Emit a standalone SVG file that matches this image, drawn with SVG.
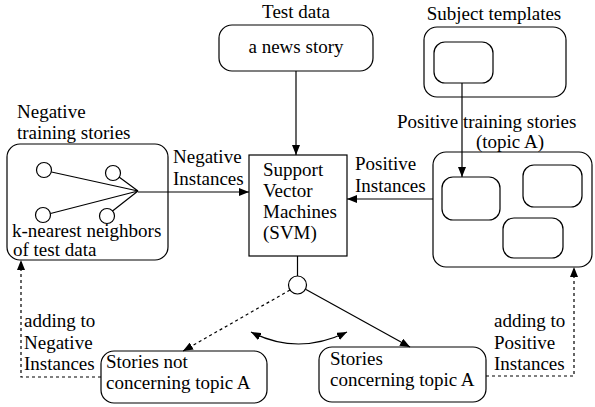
<svg xmlns="http://www.w3.org/2000/svg" width="595" height="407" viewBox="0 0 595 407" font-family="'Liberation Serif', 'Times New Roman', Times, 'DejaVu Serif', serif" font-size="19">
<defs>
<marker id="ah" viewBox="0 0 10 8" refX="10" refY="4" markerWidth="10" markerHeight="8" markerUnits="userSpaceOnUse" orient="auto-start-reverse">
<path d="M0,0 L10,4 L0,8 Z" fill="#000"/>
</marker>
</defs>
<style>
text{fill:#000}
.b{fill:#fff;stroke:#000;stroke-width:1.2}
.l{fill:none;stroke:#000;stroke-width:1.2}
.d{fill:none;stroke:#000;stroke-width:1.2;stroke-dasharray:3,3}
.m{text-anchor:middle}
</style>
<rect width="595" height="407" fill="#fff"/>
<g id="test-data">
<text x="296" y="18" class="m">Test data</text>
<rect class="b" x="219" y="25" width="154" height="46" rx="13"/>
<text x="296" y="53" class="m">a news story</text>
</g>
<g id="subject-templates">
<text x="494" y="20" class="m">Subject templates</text>
<rect class="b" x="424" y="27" width="142" height="70" rx="13"/>
<rect class="b" x="434" y="42" width="59" height="41" rx="11"/>
</g>
<g id="negative-training">
<text x="17" y="118">Negative</text>
<text x="17" y="139">training stories</text>
<rect class="b" x="7" y="144" width="161" height="116" rx="13"/>
<circle class="b" cx="44" cy="170" r="7.5"/>
<circle class="b" cx="113" cy="173" r="7.5"/>
<circle class="b" cx="43" cy="215" r="7.5"/>
<circle class="b" cx="107" cy="216" r="7.5"/>
<path class="l" d="M51.5,172 L138,191 M119,177 L138,191 M50.5,213.5 L138,191 M112.5,211 L138,191"/>
<text x="12" y="237">k-nearest neighbors</text>
<text x="13" y="256">of test data</text>
</g>
<g id="svm">
<rect class="b" x="249" y="155" width="98" height="101"/>
<text x="263" y="176">Support</text>
<text x="263" y="197">Vector</text>
<text x="263" y="218">Machines</text>
<text x="263" y="239">(SVM)</text>
</g>
<g id="positive-training">
<text x="397" y="128">Positive training stories</text>
<text x="510" y="148" class="m">(topic A)</text>
<rect class="b" x="433" y="152" width="159" height="115" rx="13"/>
<rect class="b" x="442" y="177" width="58" height="43" rx="11"/>
<rect class="b" x="523" y="165" width="59" height="42" rx="11"/>
<rect class="b" x="503" y="218" width="60" height="40" rx="11"/>
</g>
<g id="decision">
<circle class="b" cx="297.5" cy="285" r="9"/>
</g>
<g id="not-topic">
<rect class="b" x="101" y="351" width="166" height="52" rx="13"/>
<text x="106" y="368">Stories not</text>
<text x="106" y="389">concerning topic A</text>
</g>
<g id="topic">
<rect class="b" x="319" y="347" width="167" height="55" rx="13"/>
<text x="330" y="365">Stories</text>
<text x="330" y="386">concerning topic A</text>
</g>
<g id="connectors">
<path class="l" d="M296,71 V155" marker-end="url(#ah)"/>
<path class="l" d="M462,83 V177" marker-end="url(#ah)"/>
<path class="l" d="M138,192 H249" marker-end="url(#ah)"/>
<path class="l" d="M433,199 H347" marker-end="url(#ah)"/>
<path class="l" d="M297.5,256 V276"/>
<path class="d" d="M290,290 L183,351" marker-end="url(#ah)"/>
<path class="l" d="M306,289.5 L410,347" marker-end="url(#ah)"/>
<path class="l" d="M251,332 Q298,356 347,332" marker-start="url(#ah)" marker-end="url(#ah)"/>
<path class="d" d="M101,377 H21 V260" marker-end="url(#ah)"/>
<path class="d" d="M486,376 H574 V267" marker-end="url(#ah)"/>
<text x="173" y="163">Negative</text>
<text x="173" y="185">Instances</text>
<text x="355" y="170">Positive</text>
<text x="355" y="192">Instances</text>
<text x="24" y="327">adding to</text>
<text x="24" y="349">Negative</text>
<text x="24" y="370">Instances</text>
<text x="494" y="327">adding to</text>
<text x="494" y="349">Positive</text>
<text x="494" y="370">Instances</text>
</g>
</svg>
